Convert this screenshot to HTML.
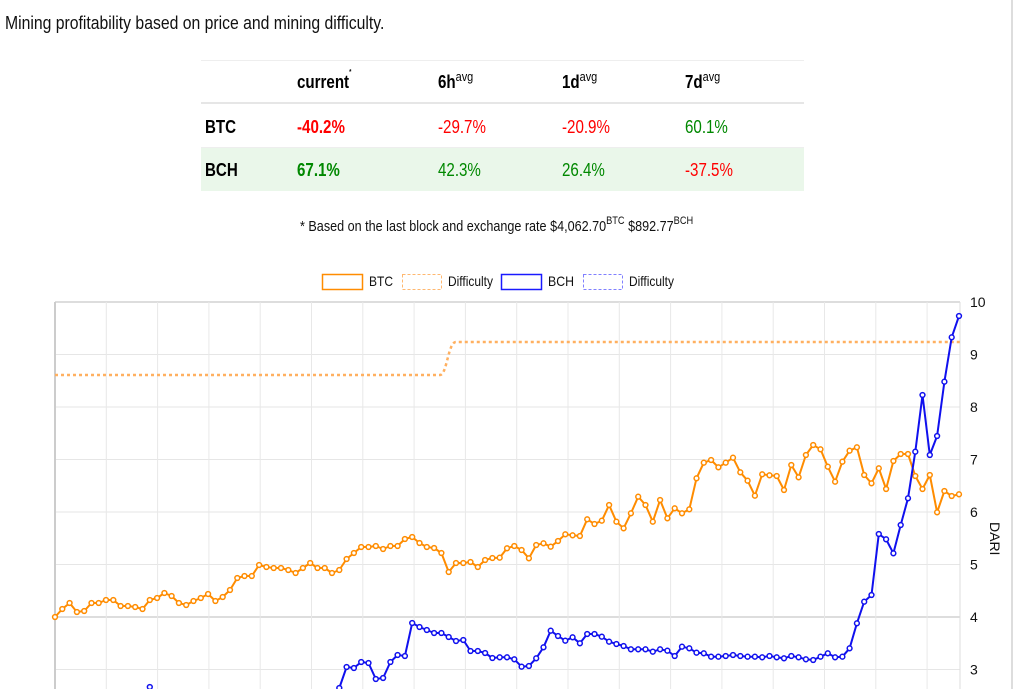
<!DOCTYPE html>
<html><head><meta charset="utf-8"><style>
body{margin:0;background:#fff;width:1023px;height:689px;overflow:hidden;position:relative;font-family:"Liberation Sans",Arial,sans-serif;}
.t{position:absolute;white-space:nowrap;transform-origin:left top;transform:scaleX(0.84);}
.b{font-weight:bold}
.r{color:#f00}.g{color:#080}
sup{font-size:11px;vertical-align:top;position:relative;top:-3px}
</style></head><body>
<div style="position:absolute;left:1011px;top:0;width:2px;height:689px;background:#ddd"></div>
<div class="t" style="left:5px;top:13px;font-size:18px;color:#111;transform:scaleX(0.875)">Mining profitability based on price and mining difficulty.</div>
<div style="position:absolute;left:201px;top:60px;width:603px;height:1px;background:#eee"></div>
<div style="position:absolute;left:201px;top:102px;width:603px;height:2px;background:#e6e6e6"></div>
<div style="position:absolute;left:201px;top:147px;width:603px;height:1px;background:#eee"></div>
<div style="position:absolute;left:201px;top:148px;width:603px;height:43px;background:#eaf7ea"></div>
<div class="t b" style="left:297px;top:72px;font-size:18px">current<sup style="font-size:7px">*</sup></div>
<div class="t b" style="left:438px;top:72px;font-size:18px">6h<sup style="font-weight:normal;font-size:13px">avg</sup></div>
<div class="t b" style="left:562px;top:72px;font-size:18px">1d<sup style="font-weight:normal;font-size:13px">avg</sup></div>
<div class="t b" style="left:685px;top:72px;font-size:18px">7d<sup style="font-weight:normal;font-size:13px">avg</sup></div>
<div class="t b" style="left:205px;top:117px;font-size:18px">BTC</div>
<div class="t b r" style="left:297px;top:117px;font-size:18px">-40.2%</div>
<div class="t r" style="left:438px;top:117px;font-size:18px">-29.7%</div>
<div class="t r" style="left:562px;top:117px;font-size:18px">-20.9%</div>
<div class="t g" style="left:685px;top:117px;font-size:18px">60.1%</div>
<div class="t b" style="left:205px;top:160px;font-size:18px">BCH</div>
<div class="t b g" style="left:297px;top:160px;font-size:18px">67.1%</div>
<div class="t g" style="left:438px;top:160px;font-size:18px">42.3%</div>
<div class="t g" style="left:562px;top:160px;font-size:18px">26.4%</div>
<div class="t r" style="left:685px;top:160px;font-size:18px">-37.5%</div>
<div class="t" style="left:300px;top:218px;font-size:15px;color:#111">* Based on the last block and exchange rate $4,062.70<sup style="font-size:11px">BTC</sup> $892.77<sup style="font-size:11px">BCH</sup></div>
<svg width="1023" height="689" style="position:absolute;left:0;top:0" id="s">
<g font-family="Liberation Sans,Arial,sans-serif" font-size="14" fill="#111">
<rect x="322.5" y="274.5" width="40" height="15" fill="none" stroke="#ff8c00" stroke-width="1.5"/>
<text x="369" y="286" textLength="24" lengthAdjust="spacingAndGlyphs">BTC</text>
<rect x="402.5" y="274.5" width="39" height="15" fill="none" stroke="#ffb870" stroke-dasharray="3,2"/>
<text x="448" y="286" textLength="45" lengthAdjust="spacingAndGlyphs">Difficulty</text>
<rect x="501.5" y="274.5" width="40" height="15" fill="none" stroke="#1a1aff" stroke-width="1.5"/>
<text x="548" y="286" textLength="26" lengthAdjust="spacingAndGlyphs">BCH</text>
<rect x="583.5" y="274.5" width="39" height="15" fill="none" stroke="#8080ff" stroke-dasharray="3,2"/>
<text x="629" y="286" textLength="45" lengthAdjust="spacingAndGlyphs">Difficulty</text>
</g>
<g id="grid"></g>
<g id="data"></g>
</svg>
<script>
var s='';
var X0=55,X1=960,T=302,U=52.5;
for(var v=3;v<=10;v++){var y=T+(10-v)*U;s+='<line x1="'+X0+'" x2="'+X1+'" y1="'+y+'" y2="'+y+'" stroke="'+(v==4?'#ddd':'#e6e6e6')+'" stroke-width="'+(v==4?2:1)+'"/>';
s+='<text x="970" y="'+(y+5)+'" font-family="Liberation Sans,Arial" font-size="14" fill="#111">'+v+'</text>';}
s+='<line x1="'+X0+'" x2="'+X1+'" y1="'+T+'" y2="'+T+'" stroke="#ddd" stroke-width="2"/>';
for(var k=0;k<18;k++){var x=X0+k*51.3;s+='<line x1="'+x+'" x2="'+x+'" y1="'+T+'" y2="689" stroke="'+(k==0?'#ccc':'#e8e8e8')+'" stroke-width="'+(k==0?2:1)+'"/>';}
s+='<line x1="960" x2="960" y1="'+T+'" y2="689" stroke="#ddd" stroke-width="1"/>';
s+='<text transform="translate(990,522) rotate(90)" font-family="Liberation Sans,Arial" font-size="14" fill="#111">DARI</text>';
document.getElementById('grid').innerHTML=s;
var b1=[617,609,603,612,611,603,603,600,600,606,606,607,609,600,598,593,596,603,605,601,598,594,601,597,590,578,576,576,565,567,568,568,570,573,568,563,568,568,573,570,559,553,547,547,546,549,546,546,539,537,543,547,548,553,572,563,563,562,567,560,558];
var b2=[893,865,858,870,895,855,850,860,843,823,826,828,778,792,782,735,785,805,760,710,735,785,720,775,745,760,748,655,608,600,622,608,593,637,662,707,643,646,648,690,615,652,585,555,568,620,665,605,572,562,645,670,625,687,603,582,582,648,687,645,757,693,708,703].map(function(v){return v/3+260});
var btc=b1.concat(b2);
var c1=[];for(var i=0;i<39;i++)c1.push(i==13?687:(i==12||i==14?700:(i<36?720:705)));
c1=c1.concat([688,667,668,662,663,679,678,662,655,656,623,627,630,633,633,637,641,640,651,651,653,658]);
var c2=[1192,1192,1198,1220,1218,1195,1162,1112,1128,1142,1132,1150,1122,1122,1130,1145,1152,1158,1168,1168,1168,1175,1168,1172,1188,1160,1165,1178,1180,1190,1190,1188,1185,1188,1190,1190,1192,1188,1192,1195,1188,1192,1198,1200,1190,1180,1192,1190,1165,1090,1025,1005,822,838,880,795,715,575,405,585,528,365,232,168].map(function(v){return v/3+260});
var bch=c1.concat(c2);
function draw(a,col){var n=a.length,st=(959-55)/(n-1),p='',c='';
for(var i=0;i<n;i++){var x=55+i*st;p+=(i?'L':'M')+x.toFixed(1)+' '+a[i].toFixed(1);if(a[i]<692)c+='<circle cx="'+x.toFixed(1)+'" cy="'+a[i].toFixed(1)+'" r="2.4" fill="#fff" stroke="'+col+'" stroke-width="1.5"/>';}
return '<path d="'+p+'" fill="none" stroke="'+col+'" stroke-width="2" stroke-linejoin="round"/>'+c;}
var d='<path d="M55 375 L440 375 C447 375 448 342 456 342 L960 342" fill="none" stroke="#ffb060" stroke-width="2.5" stroke-dasharray="3,3"/>';
d+=draw(btc,'#ff8c00')+draw(bch,'#1010ee');
document.getElementById('data').innerHTML=d;
</script>
</body></html>
